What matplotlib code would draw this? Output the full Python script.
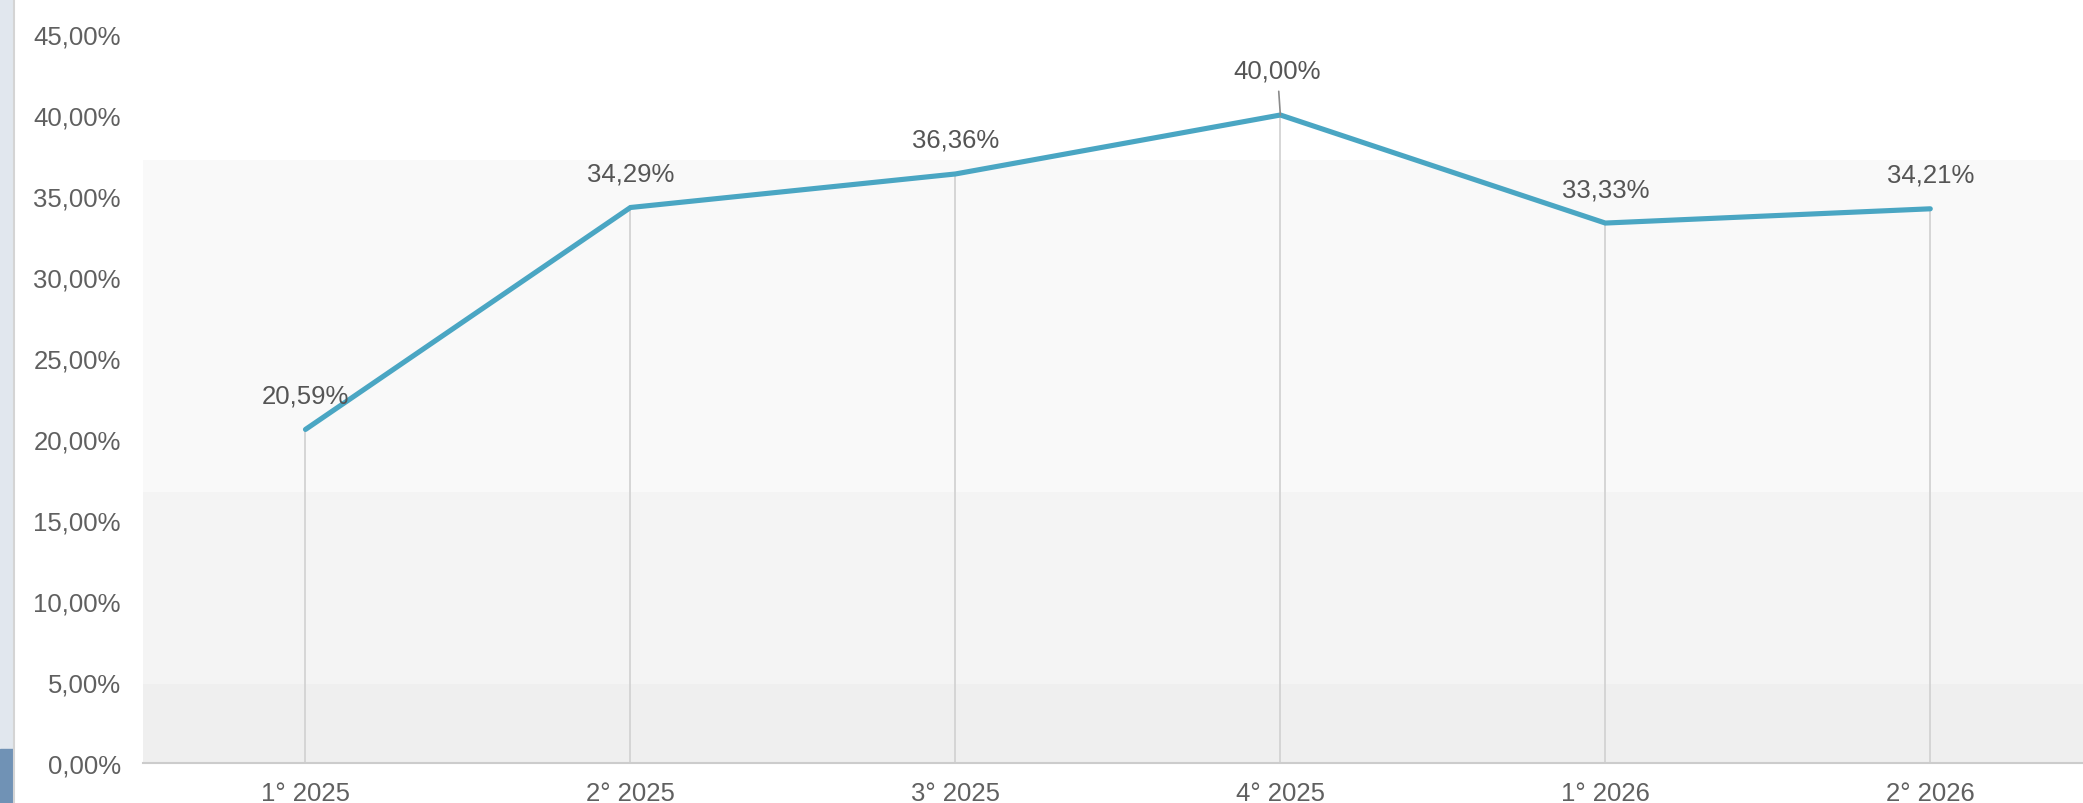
import matplotlib
import matplotlib.pyplot as plt
from matplotlib.patches import Rectangle
from matplotlib.lines import Line2D

matplotlib.use("agg")

# data
categories = ["1° 2025", "2° 2025", "3° 2025", "4° 2025", "1° 2026", "2° 2026"]
values = [20.59, 34.29, 36.36, 40.00, 33.33, 34.21]
y_ticks = [0, 5, 10, 15, 20, 25, 30, 35, 40, 45]

plt.rcParams["font.family"] = ["Liberation Sans", "DejaVu Sans"]

W, H = 2083, 804
fig = plt.figure(figsize=(W / 100, H / 100), dpi=100)

# left strip of the page behind the chart
fig.patches.append(Rectangle((0, 0), 13 / W, 1, transform=fig.transFigure,
                             color="#e1e7ee", zorder=0))
fig.patches.append(Rectangle((0, 0), 13 / W, 54 / H, transform=fig.transFigure,
                             color="#7092b5", zorder=0))
fig.lines.append(Line2D([14 / W, 14 / W], [0, 1], transform=fig.transFigure,
                        color="#d4d4d4", lw=1.5))

ax = fig.add_axes([143 / W, 40 / H, 1 - 143 / W, 1 - 40 / H])
x = list(range(len(categories)))

ax.set_xlim(-0.5, 5.47)
ax.set_ylim(0, 764 / 16.2)

# background bands
ax.axhspan(16.7, 37.2, color="#f9f9f9", zorder=0, lw=0)
ax.axhspan(4.9, 16.7, color="#f4f4f4", zorder=0, lw=0)
ax.axhspan(0, 4.9, color="#efefef", zorder=0, lw=0)

# drop lines
ax.vlines(x, 0, values, color="#d3d3d3", lw=1.3, zorder=1)

ax.plot(x, values, color="#4aa6c3", lw=3.7, solid_joinstyle="miter",
        solid_capstyle="round", zorder=3)

for xi, v in zip(x, values):
    label = f"{v:.2f}".replace(".", ",") + "%"
    if v == max(values):
        ax.annotate(label, (xi, v), xytext=(-3, 44), textcoords="offset pixels",
                    ha="center", va="center", fontsize=18.5, color="#555555",
                    arrowprops=dict(arrowstyle="-", color="#8a8a8a", lw=1.2,
                                    shrinkA=4, shrinkB=0))
    else:
        ax.annotate(label, (xi, v), xytext=(0, 34), textcoords="offset pixels",
                    ha="center", va="center", fontsize=18.5, color="#555555")

ax.set_xticks(x)
ax.set_xticklabels(categories)
ax.set_yticks(y_ticks)
ax.set_yticklabels([f"{t:.2f}".replace(".", ",") + "%" for t in y_ticks])
ax.tick_params(axis="y", length=0, pad=16, labelsize=18.5, labelcolor="#606060")
ax.tick_params(axis="x", length=0, pad=13, labelsize=18.5, labelcolor="#606060")

for s in ["top", "right", "left"]:
    ax.spines[s].set_visible(False)
ax.spines["bottom"].set_color("#cccccc")
ax.spines["bottom"].set_linewidth(1.5)
ax.set_facecolor("white")

plt.savefig("out.png", dpi=100)
